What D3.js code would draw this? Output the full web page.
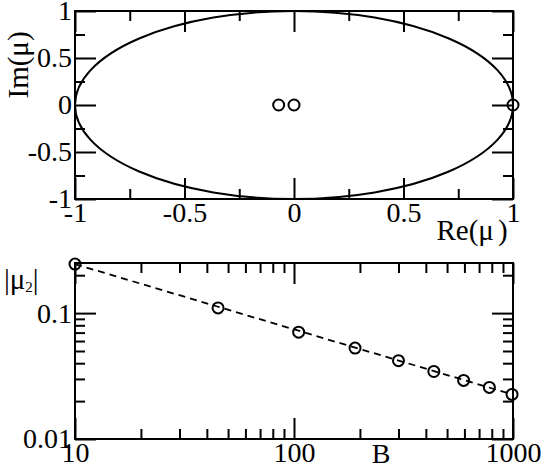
<!DOCTYPE html>
<html>
<head>
<meta charset="utf-8">
<script src="https://cdn.jsdelivr.net/npm/d3@7"></script>
<style>
  body { margin: 0; background: #fff; }
  svg text { font-family: "Liberation Serif", "Times New Roman", serif; fill: #000; }
</style>
</head>
<body>
<svg id="chart" width="545" height="467"></svg>
<script>
// eigenvalues in the complex plane
const muRe = [1, 0, -0.07];
const muIm = [0, 0, 0];
const unitRadius = 1;

// |mu_2| against B
const B = [10, 45, 105, 190, 300, 435, 595, 780, 990];
const mu2 = [0.245, 0.11, 0.0706, 0.0527, 0.0419, 0.0344, 0.0292, 0.0257, 0.0226];
// dashed power-law fit, end points
const fitB = [10, 1000];
const fitMu = [0.245, 0.0225];

// ticks
const reMajor = [-1, -0.5, 0, 0.5, 1];
const reMinor = [-0.75, -0.25, 0.25, 0.75];
const bMajor = [10, 100, 1000];
const bMinor = [20, 30, 40, 50, 60, 70, 80, 90, 200, 300, 400, 500, 600, 700, 800, 900];
const muMajor = [0.01, 0.1];
const muMinor = [0.02, 0.03, 0.04, 0.05, 0.06, 0.07, 0.08, 0.09, 0.2];

let svg = d3.select("#chart");

const left = 75, right = 513;
const fontSize = 28;
const major = 21, minor = 10;

// plain hyphen for negatives, like the original
const plain = d => String(d);

// draw ticks on all four sides, labels only bottom / left
function frame(g, x, y, xMaj, xMin, yMaj, yMin, xfmt, yfmt) {
    let [x0, x1] = x.range();
    let [y1, y0] = y.range();

    let axes = [
        [d3.axisBottom(x), "translate(0," + y1 + ")", xMaj, xMin, xfmt],
        [d3.axisTop(x), "translate(0," + y0 + ")", xMaj, xMin, null],
        [d3.axisLeft(y), "translate(" + x0 + ",0)", yMaj, yMin, yfmt],
        [d3.axisRight(y), "translate(" + x1 + ",0)", yMaj, yMin, null]
    ];

    axes.forEach(function (a) {
        let ax = a[0];
        g.append("g")
            .attr("transform", a[1])
            .call(ax.tickValues(a[3]).tickSize(-minor).tickFormat(""));
        g.append("g")
            .attr("class", "lab")
            .attr("transform", a[1])
            .call(ax.tickValues(a[2]).tickSize(-major).tickPadding(3)
                .tickFormat(a[4] ? a[4] : ""));
    });

    g.selectAll(".domain").remove();
    g.selectAll(".tick line").attr("stroke", "#000").attr("stroke-width", 2);
    g.selectAll(".tick text")
        .attr("font-size", fontSize)
        .style("font-family", "'Liberation Serif', serif")
        .attr("fill", "#000");

    g.append("rect")
        .attr("x", x0).attr("y", y0)
        .attr("width", x1 - x0).attr("height", y1 - y0)
        .attr("fill", "none")
        .attr("stroke", "#000")
        .attr("stroke-width", 2);
}

// ---- upper panel
let xRe = d3.scaleLinear().domain([-1, 1]).range([left, right]);
let yIm = d3.scaleLinear().domain([-1, 1]).range([199, 11]);

let upper = svg.append("g");

upper.append("ellipse")
    .attr("cx", xRe(0))
    .attr("cy", yIm(0))
    .attr("rx", xRe(unitRadius) - xRe(0))
    .attr("ry", yIm(0) - yIm(unitRadius))
    .attr("fill", "none")
    .attr("stroke", "#000")
    .attr("stroke-width", 2);

frame(upper, xRe, yIm, reMajor, reMinor, reMajor, reMinor, plain, plain);

upper.selectAll(".eig")
    .data(d3.range(muRe.length))
    .join("circle")
    .attr("class", "eig")
    .attr("cx", i => xRe(muRe[i]))
    .attr("cy", i => yIm(muIm[i]))
    .attr("r", 5.5)
    .attr("fill", "none")
    .attr("stroke", "#000")
    .attr("stroke-width", 2);

upper.append("text")
    .attr("transform", "translate(28,65) rotate(-90)")
    .attr("text-anchor", "middle")
    .attr("font-size", 29)
    .text("Im(μ)");

let reLab = upper.append("text")
    .attr("x", 472).attr("y", 240)
    .attr("text-anchor", "middle")
    .attr("font-size", 29);
reLab.append("tspan").text("Re(μ");
reLab.append("tspan").attr("dx", 4).text(")");

// ---- lower panel
let xB = d3.scaleLog().domain([10, 1000]).range([left, right]);
let yMu = d3.scaleLog().domain([0.01, 0.25]).range([439, 263]);

let lower = svg.append("g");

frame(lower, xB, yMu, bMajor, bMinor, muMajor, muMinor, plain, plain);

let fitLine = d3.line()
    .x(i => xB(fitB[i]))
    .y(i => yMu(fitMu[i]));

lower.append("path")
    .attr("d", fitLine(d3.range(fitB.length)))
    .attr("fill", "none")
    .attr("stroke", "#000")
    .attr("stroke-width", 1.8)
    .attr("stroke-dasharray", "7,5");

lower.selectAll(".pt")
    .data(d3.range(B.length))
    .join("circle")
    .attr("class", "pt")
    .attr("cx", i => xB(B[i]))
    .attr("cy", i => yMu(mu2[i]))
    .attr("r", 5.5)
    .attr("fill", "none")
    .attr("stroke", "#000")
    .attr("stroke-width", 2);

lower.append("text")
    .attr("x", 381).attr("y", 463)
    .attr("text-anchor", "middle")
    .attr("font-size", 28)
    .text("B");

let muLab = lower.append("text")
    .attr("x", 4).attr("y", 289)
    .attr("font-size", 29);
muLab.append("tspan").text("|μ");
muLab.append("tspan").attr("font-size", 15).attr("dy", 3).text("2");
muLab.append("tspan").attr("dy", -3).text("|");
</script>
</body>
</html>
